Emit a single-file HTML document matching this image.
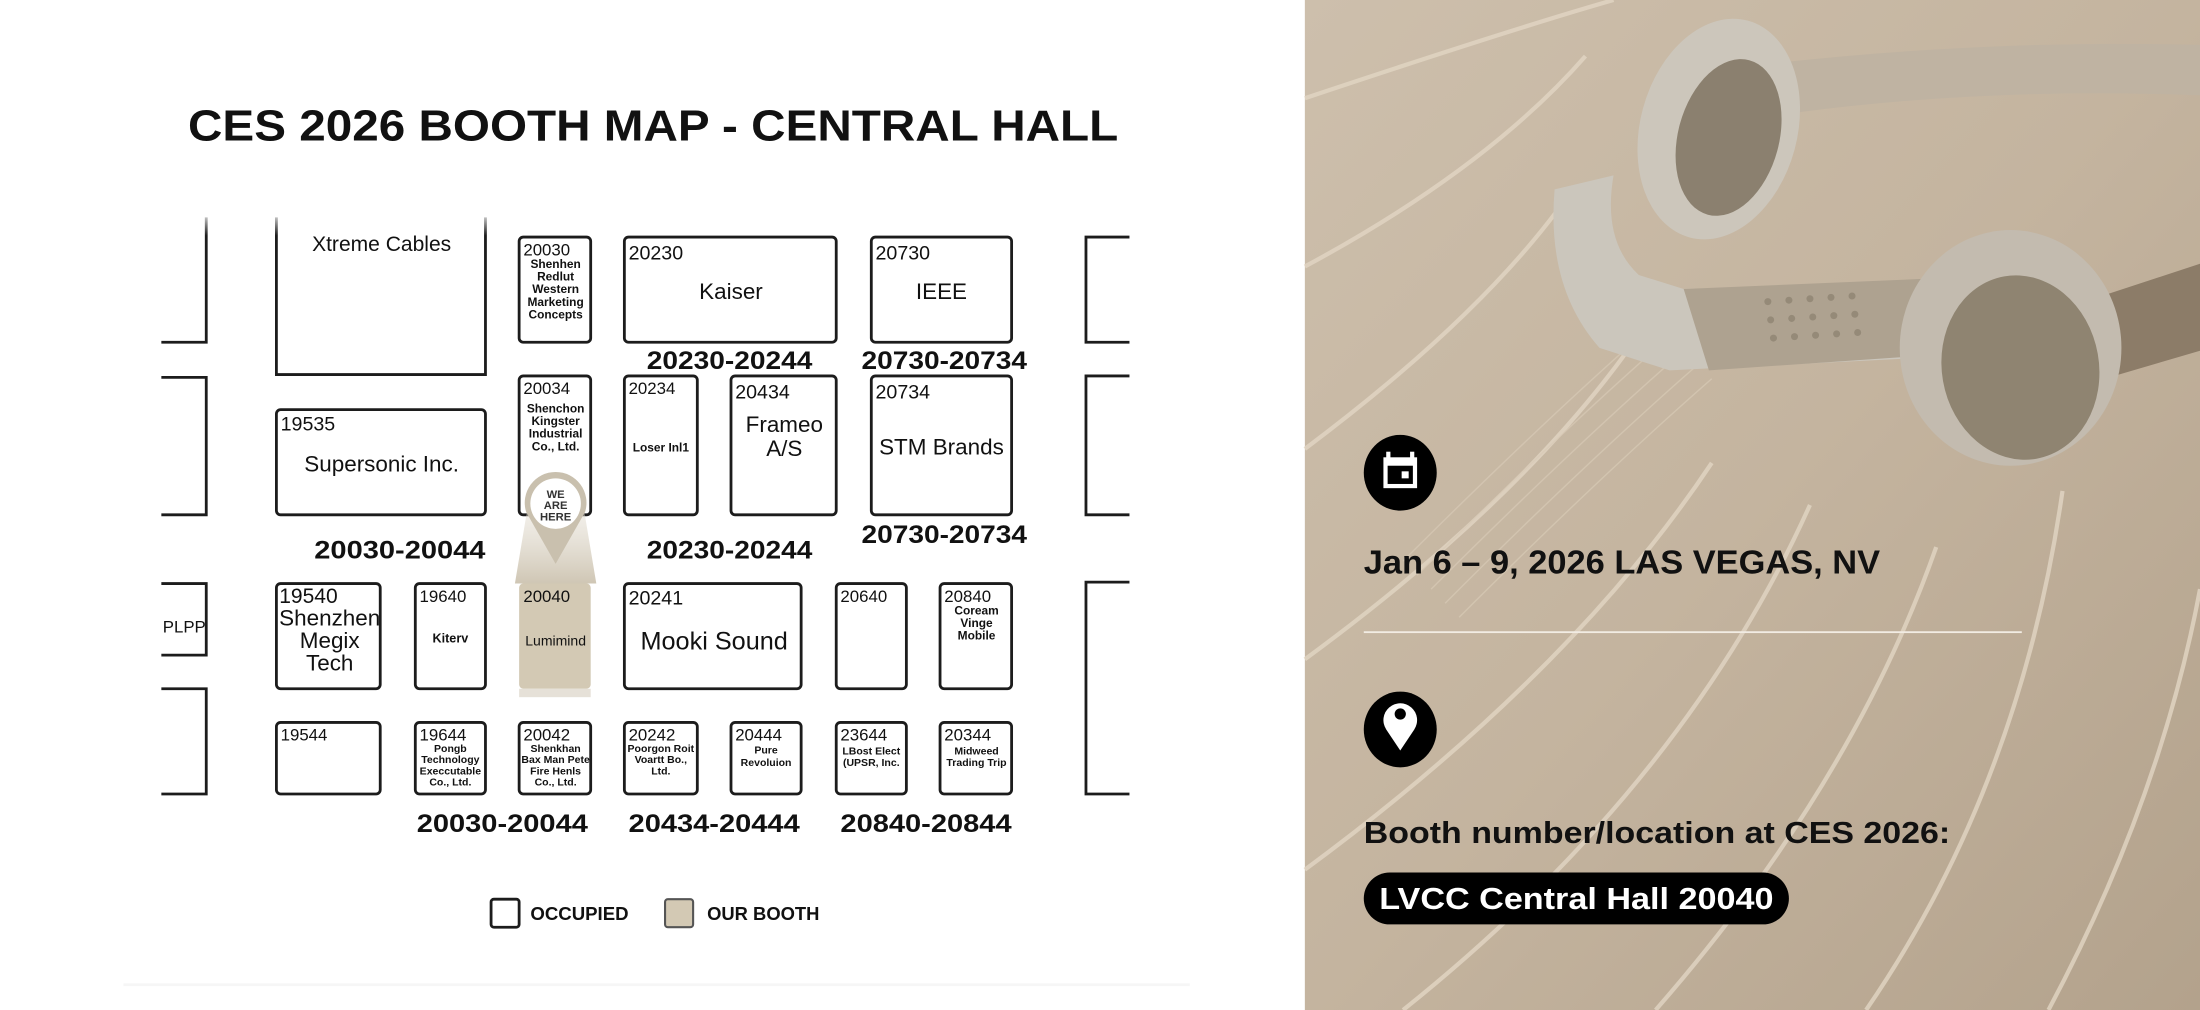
<!DOCTYPE html>
<html><head><meta charset="utf-8"><style>
html,body{margin:0;padding:0;background:#fff;}
svg{display:block;}
text{font-family:"Liberation Sans",sans-serif;}
</style></head><body>
<svg width="2200" height="1010" viewBox="0 0 1568 720" preserveAspectRatio="none" xmlns="http://www.w3.org/2000/svg">
<defs>
<linearGradient id="bg" x1="0" y1="0" x2="1" y2="1">
<stop offset="0" stop-color="#cdbfac"/><stop offset="0.5" stop-color="#c4b49f"/><stop offset="1" stop-color="#b3a28c"/>
</linearGradient>
<linearGradient id="cone" x1="0" y1="0" x2="0" y2="1">
<stop offset="0" stop-color="#e9e4da" stop-opacity="0.3"/><stop offset="1" stop-color="#cfc6b4"/>
</linearGradient>
<linearGradient id="fadeT" x1="0" y1="0" x2="0" y2="1">
<stop offset="0" stop-color="#fff" stop-opacity="1"/><stop offset="1" stop-color="#fff" stop-opacity="0"/>
</linearGradient>
</defs>
<rect x="0" y="0" width="930" height="720" fill="#fff"/>
<rect x="88" y="701" width="760" height="2" fill="#f6f6f6"/>
<!-- right panel -->
<rect x="930" y="0" width="638" height="720" fill="url(#bg)"/>
<g fill="none" stroke="#e2d6c4" stroke-width="3" opacity="0.8">
<path d="M930 70 Q1080 20 1150 0"/>
<path d="M930 190 Q1060 120 1130 40"/>
<path d="M930 320 Q1050 230 1110 150"/>
<path d="M930 470 Q1080 360 1160 250"/>
<path d="M930 620 Q1120 480 1220 330"/>
<path d="M1000 720 Q1200 560 1290 360"/>
<path d="M1180 720 Q1320 560 1380 390"/>
<path d="M1330 720 Q1440 560 1470 350"/>
<path d="M1460 720 Q1540 570 1568 420"/>
</g>
<g fill="none" stroke="#d8cab6" stroke-width="1" opacity="0.7">
<path d="M1000 400 Q1100 300 1180 230"/><path d="M1010 410 Q1110 310 1190 240"/><path d="M1020 420 Q1120 320 1200 250"/><path d="M1030 430 Q1130 330 1210 260"/><path d="M1040 440 Q1140 340 1220 270"/>
</g>
<!-- headphones -->
<path d="M1265 45 Q1420 28 1568 32 L1568 68 Q1420 62 1282 80 Z" fill="#bfb3a2"/>
<path d="M1108 135 Q1102 205 1140 248 L1190 264 L1392 254 L1396 200 L1200 206 L1168 196 Q1142 172 1150 125 Z" fill="#cbc6bc"/>
<path d="M1200 206 L1390 198 L1394 252 L1218 264 Z" fill="#aea290"/>
<g fill="#958a78">
<circle cx="1260" cy="215" r="2.5"/><circle cx="1275" cy="214" r="2.5"/><circle cx="1290" cy="213" r="2.5"/><circle cx="1305" cy="212" r="2.5"/><circle cx="1320" cy="211" r="2.5"/>
<circle cx="1262" cy="228" r="2.5"/><circle cx="1277" cy="227" r="2.5"/><circle cx="1292" cy="226" r="2.5"/><circle cx="1307" cy="225" r="2.5"/><circle cx="1322" cy="224" r="2.5"/>
<circle cx="1264" cy="241" r="2.5"/><circle cx="1279" cy="240" r="2.5"/><circle cx="1294" cy="239" r="2.5"/><circle cx="1309" cy="238" r="2.5"/><circle cx="1324" cy="237" r="2.5"/>
</g>
<ellipse cx="1225" cy="92" rx="56" ry="80" transform="rotate(15 1225 92)" fill="#ccc6bb"/>
<ellipse cx="1232" cy="98" rx="36" ry="57" transform="rotate(15 1232 98)" fill="#8b806f"/>
<path d="M1495 212 L1568 188 L1568 250 L1500 270 Z" fill="#8c7c68"/>
<ellipse cx="1433" cy="248" rx="79" ry="84" fill="#c3bbaf"/>
<ellipse cx="1440" cy="262" rx="56" ry="66" transform="rotate(-10 1440 262)" fill="#8f8471"/>
<!-- icons -->
<ellipse cx="998" cy="337" rx="26" ry="27" fill="#000"/>
<rect x="986" y="326" width="24" height="22" fill="#fff"/><rect x="989" y="332" width="18" height="13" fill="#000"/><rect x="999" y="336" width="5" height="5" fill="#fff"/>
<rect x="988" y="322" width="3" height="5" fill="#fff"/><rect x="1005" y="322" width="3" height="5" fill="#fff"/>
<ellipse cx="998" cy="520" rx="26" ry="27" fill="#000"/>
<path d="M998 535 L988 520 A12 12 0 1 1 1008 520 Z" fill="#fff"/><circle cx="998" cy="509" r="4" fill="#000"/>
<text x="972" y="409" font-size="24" font-weight="bold" fill="#111" textLength="368" lengthAdjust="spacingAndGlyphs">Jan 6 – 9, 2026 LAS VEGAS, NV</text>
<rect x="972" y="450" width="469" height="1.3" fill="#f2ece3"/>
<text x="972" y="601" font-size="22" font-weight="bold" fill="#111" textLength="418" lengthAdjust="spacingAndGlyphs">Booth number/location at CES 2026:</text>
<rect x="972" y="622" width="303" height="37" rx="18.5" fill="#000"/>
<text x="983" y="648" font-size="22" font-weight="bold" fill="#fff" textLength="281" lengthAdjust="spacingAndGlyphs">LVCC Central Hall 20040</text>

<!-- map title -->
<text x="134" y="100" font-size="31" font-weight="bold" fill="#111" textLength="663" lengthAdjust="spacingAndGlyphs">CES 2026 BOOTH MAP - CENTRAL HALL</text>

<g fill="none" stroke="#1c1c1c" stroke-width="2">
<path d="M147 155 V244 H115"/>
<path d="M115 269 H147 V367 H115"/>
<path d="M115 416 H147 V467 H115"/>
<path d="M115 491 H147 V566 H115"/>
<path d="M197 155 V267 H346 V155"/>
<rect x="197" y="292" width="149" height="75" rx="3"/>
<rect x="370" y="169" width="51" height="75" rx="3"/>
<rect x="370" y="268" width="51" height="99" rx="3"/>
<rect x="445" y="169" width="151" height="75" rx="3"/>
<rect x="621" y="169" width="100" height="75" rx="3"/>
<path d="M805 169 H774 V244 H805"/>
<path d="M805 268 H774 V367 H805"/>
<path d="M805 415 H774 V566 H805"/>
<rect x="445" y="268" width="52" height="99" rx="3"/>
<rect x="521" y="268" width="75" height="99" rx="3"/>
<rect x="621" y="268" width="100" height="99" rx="3"/>
<rect x="197" y="416" width="74" height="75" rx="3"/>
<rect x="296" y="416" width="50" height="75" rx="3"/>
<rect x="445" y="416" width="126" height="75" rx="3"/>
<rect x="596" y="416" width="50" height="75" rx="3"/>
<rect x="670" y="416" width="51" height="75" rx="3"/>
<rect x="197" y="515" width="74" height="51" rx="3"/>
<rect x="296" y="515" width="50" height="51" rx="3"/>
<rect x="370" y="515" width="51" height="51" rx="3"/>
<rect x="445" y="515" width="52" height="51" rx="3"/>
<rect x="521" y="515" width="50" height="51" rx="3"/>
<rect x="596" y="515" width="50" height="51" rx="3"/>
<rect x="670" y="515" width="51" height="51" rx="3"/>
<rect x="350" y="641" width="20" height="20" rx="2"/>
</g>
<rect x="100" y="150" width="720" height="18" fill="url(#fadeT)"/>
<polygon points="378,350 414,350 425,416 367,416" fill="url(#cone)"/>
<rect x="370" y="416" width="51" height="75" rx="3" fill="#d3c9b4"/>
<rect x="370" y="491" width="51" height="6" fill="#e6e1d8"/>
<rect x="474" y="641" width="20" height="20" rx="2" fill="#d3c9b4" stroke="#555" stroke-width="1.5"/>
<path d="M375 365 A22 22 0 1 1 417 365 L396 402 Z" fill="#c9c0ae"/>
<circle cx="396" cy="359" r="18" fill="#fff"/>
<g font-size="8" font-weight="bold" fill="#333" text-anchor="middle">
<text x="396" y="355">WE</text><text x="396" y="363">ARE</text><text x="396" y="371">HERE</text>
</g>

<g fill="#111">
<text x="272" y="179" font-size="15" text-anchor="middle">Xtreme Cables</text>
<text x="373" y="182" font-size="12">20030</text>
<g font-size="8.5" font-weight="bold" text-anchor="middle">
<text x="396" y="191">Shenhen</text><text x="396" y="200">Redlut</text><text x="396" y="209">Western</text><text x="396" y="218">Marketing</text><text x="396" y="227">Concepts</text>
<text x="396" y="294">Shenchon</text><text x="396" y="303">Kingster</text><text x="396" y="312">Industrial</text><text x="396" y="321">Co., Ltd.</text>
</g>
<text x="373" y="281" font-size="12">20034</text>
<text x="448" y="185" font-size="14">20230</text>
<text x="521" y="213" font-size="16" text-anchor="middle">Kaiser</text>
<text x="624" y="185" font-size="14">20730</text>
<text x="671" y="213" font-size="16" text-anchor="middle">IEEE</text>
<text x="200" y="307" font-size="14">19535</text>
<text x="272" y="336" font-size="16" text-anchor="middle">Supersonic Inc.</text>
<text x="448" y="281" font-size="12">20234</text>
<text x="471" y="322" font-size="8.5" font-weight="bold" text-anchor="middle">Loser Inl1</text>
<text x="524" y="284" font-size="14">20434</text>
<text x="559" y="308" font-size="16" text-anchor="middle">Frameo</text>
<text x="559" y="325" font-size="16" text-anchor="middle">A/S</text>
<text x="624" y="284" font-size="14">20734</text>
<text x="671" y="324" font-size="16" text-anchor="middle">STM Brands</text>
<text x="116" y="451" font-size="12">PLPP</text>
<text x="199" y="430" font-size="15">19540</text>
<text x="235" y="446" font-size="16" text-anchor="middle">Shenzhen</text>
<text x="235" y="462" font-size="16" text-anchor="middle">Megix</text>
<text x="235" y="478" font-size="16" text-anchor="middle">Tech</text>
<text x="299" y="429" font-size="12">19640</text>
<text x="321" y="458" font-size="9" font-weight="bold" text-anchor="middle">Kiterv</text>
<text x="373" y="429" font-size="12">20040</text>
<text x="396" y="460" font-size="10" text-anchor="middle">Lumimind</text>
<text x="448" y="431" font-size="14">20241</text>
<text x="509" y="463" font-size="18" text-anchor="middle">Mooki Sound</text>
<text x="599" y="429" font-size="12">20640</text>
<text x="673" y="429" font-size="12">20840</text>
<g font-size="8.5" font-weight="bold" text-anchor="middle">
<text x="696" y="438">Coream</text><text x="696" y="447">Vinge</text><text x="696" y="456">Mobile</text>
</g>
<text x="200" y="528" font-size="12">19544</text>
<text x="299" y="528" font-size="12">19644</text>
<text x="373" y="528" font-size="12">20042</text>
<text x="448" y="528" font-size="12">20242</text>
<text x="524" y="528" font-size="12">20444</text>
<text x="599" y="528" font-size="12">23644</text>
<text x="673" y="528" font-size="12">20344</text>
<g font-size="7.5" font-weight="bold" text-anchor="middle">
<text x="321" y="536">Pongb</text><text x="321" y="544">Technology</text><text x="321" y="552">Execcutable</text><text x="321" y="560">Co., Ltd.</text>
<text x="396" y="536">Shenkhan</text><text x="396" y="544">Bax Man Pete</text><text x="396" y="552">Fire Henls</text><text x="396" y="560">Co., Ltd.</text>
<text x="471" y="536">Poorgon Roit</text><text x="471" y="544">Voartt Bo.,</text><text x="471" y="552">Ltd.</text>
<text x="546" y="537">Pure</text><text x="546" y="546">Revoluion</text>
<text x="621" y="538">LBost Elect</text><text x="621" y="546">(UPSR, Inc.</text>
<text x="696" y="538">Midweed</text><text x="696" y="546">Trading Trip</text>
</g>
<g font-size="18" font-weight="bold" text-anchor="middle">
<text x="520" y="263" textLength="118" lengthAdjust="spacingAndGlyphs">20230-20244</text>
<text x="673" y="263" textLength="118" lengthAdjust="spacingAndGlyphs">20730-20734</text>
<text x="285" y="398" textLength="122" lengthAdjust="spacingAndGlyphs">20030-20044</text>
<text x="520" y="398" textLength="118" lengthAdjust="spacingAndGlyphs">20230-20244</text>
<text x="673" y="387" textLength="118" lengthAdjust="spacingAndGlyphs">20730-20734</text>
<text x="358" y="593" textLength="122" lengthAdjust="spacingAndGlyphs">20030-20044</text>
<text x="509" y="593" textLength="122" lengthAdjust="spacingAndGlyphs">20434-20444</text>
<text x="660" y="593" textLength="122" lengthAdjust="spacingAndGlyphs">20840-20844</text>
</g>
<text x="378" y="656" font-size="13" font-weight="bold" textLength="70" lengthAdjust="spacingAndGlyphs">OCCUPIED</text>
<text x="504" y="656" font-size="13" font-weight="bold" textLength="80" lengthAdjust="spacingAndGlyphs">OUR BOOTH</text>
</g>
</svg>
</body></html>
